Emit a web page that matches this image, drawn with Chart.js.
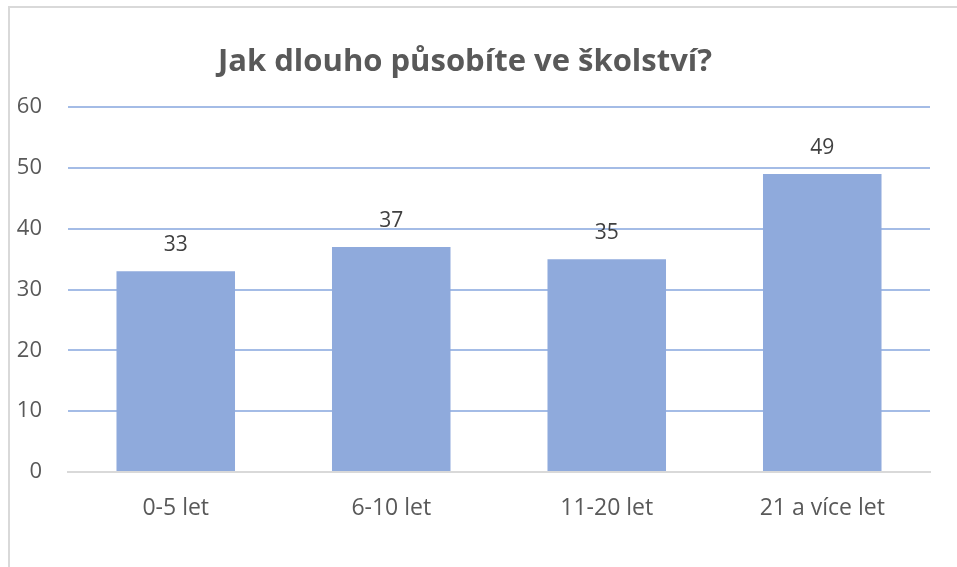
<!DOCTYPE html>
<html><head><meta charset="utf-8">
<script src="https://cdn.jsdelivr.net/npm/chart.js@4.4.0/dist/chart.umd.min.js"></script>
<style>
html,body{margin:0;padding:0;background:#fff;overflow:hidden;width:957px;height:567px;}
#frame{position:absolute;left:8px;top:6px;width:1000px;height:700px;border:2px solid #d9d9d9;box-sizing:border-box;}
#wrap{position:absolute;left:0;top:0;width:957px;height:567px;}
</style></head>
<body>
<div id="frame"></div>
<div id="wrap"><canvas id="c" width="957" height="567"></canvas></div>
<script>
const titleText = "Jak dlouho působíte ve školství?";
const categories = ["0-5 let", "6-10 let", "11-20 let", "21 a více let"];
const values = [33, 37, 35, 49];
const yTicks = [0, 10, 20, 30, 40, 50, 60];

const FONT = "'Open Sans', 'Noto Sans', sans-serif";
const TXT = "#595959";

const dataLabels = {
  id: 'dataLabels',
  afterDatasetsDraw(chart) {
    const ctx = chart.ctx;
    const meta = chart.getDatasetMeta(0);
    ctx.save();
    ctx.font = "21px " + FONT;
    ctx.fillStyle = "#404040";
    ctx.textAlign = "center";
    ctx.textBaseline = "middle";
    meta.data.forEach((bar, i) => {
      ctx.fillText(String(values[i]), bar.x, bar.y - 26);
    });
    ctx.restore();
  }
};

new Chart(document.getElementById('c'), {
  type: 'bar',
  data: {
    labels: categories,
    datasets: [{
      data: values,
      backgroundColor: '#8faadc',
      borderWidth: 0,
      barPercentage: 0.55,
      categoryPercentage: 1.0
    }]
  },
  options: {
    responsive: false,
    animation: false,
    devicePixelRatio: 1,
    layout: { padding: { left: 0, right: 27, top: 0, bottom: 0 } },
    plugins: {
      legend: { display: false },
      tooltip: { enabled: false },
      title: {
        display: true,
        text: titleText,
        color: TXT,
        font: { family: FONT, size: 31, weight: 'bold' },
        padding: { top: 44, bottom: 26 }
      }
    },
    scales: {
      x: {
        grid: { display: false, drawTicks: false },
        border: { display: true, color: '#d9d9d9', width: 2 },
        ticks: { color: TXT, font: { family: FONT, size: 23 }, padding: 23 },
        afterFit(s) { s.height = 95; }
      },
      y: {
        min: 0, max: 60,
        afterBuildTicks(s) { s.ticks = yTicks.map(v => ({ value: v })); },
        grid: {
          drawTicks: false,
          color: ctx => ctx.tick && ctx.tick.value === 0 ? 'rgba(0,0,0,0)' : '#a4bce6',
          lineWidth: 2
        },
        border: { display: false },
        ticks: { color: TXT, font: { family: FONT, size: 22 }, padding: 26 },
        afterFit(s) { s.width = 68; }
      }
    }
  },
  plugins: [dataLabels]
});
</script>
</body></html>
